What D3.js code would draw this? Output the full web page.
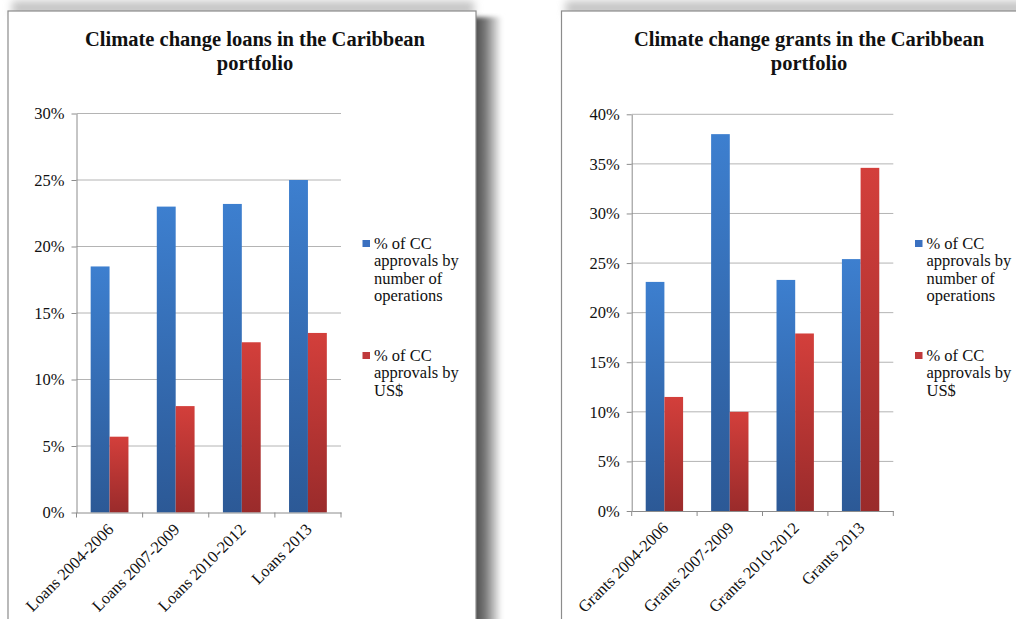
<!DOCTYPE html>
<html><head><meta charset="utf-8">
<script src="https://cdn.jsdelivr.net/npm/d3@7"></script>
<style>
html,body{margin:0;padding:0;background:#fff;overflow:hidden}
svg{display:block}
text{font-family:"Liberation Serif","Times New Roman",serif;fill:#111}
</style></head>
<body>
<svg id="c" width="1016" height="619"></svg>
<script>
// ---- data ----
const seriesNames = ["% of CC approvals by number of operations", "% of CC approvals by US$"];
const loanCategories = ["Loans 2004-2006", "Loans 2007-2009", "Loans 2010-2012", "Loans 2013"];
const loanByNumber = [18.5, 23.0, 23.2, 25.0];
const loanByUSD = [5.7, 8.0, 12.8, 13.5];
const loanTicks = [0, 5, 10, 15, 20, 25, 30];
const grantCategories = ["Grants 2004-2006", "Grants 2007-2009", "Grants 2010-2012", "Grants 2013"];
const grantByNumber = [23.1, 38.0, 23.3, 25.4];
const grantByUSD = [11.5, 10.0, 17.9, 34.6];
const grantTicks = [0, 5, 10, 15, 20, 25, 30, 35, 40];
const loanTitle = ["Climate change loans in the Caribbean", "portfolio"];
const grantTitle = ["Climate change grants in the Caribbean", "portfolio"];
const legendLines = [["% of CC", "approvals by", "number of", "operations"], ["% of CC", "approvals by", "US$"]];

const svg = d3.select("#c");
const defs = svg.append("defs");
function grad(id, top, bottom){
  const g = defs.append("linearGradient").attr("id", id).attr("x1",0).attr("y1",0).attr("x2",0).attr("y2",1);
  g.append("stop").attr("offset","0%").attr("stop-color",top);
  g.append("stop").attr("offset","100%").attr("stop-color",bottom);
}
grad("gBlue", "#3d7fcf", "#2c5996");
grad("gRed", "#d33f3b", "#9a2b2b");
const sg = defs.append("linearGradient").attr("id","shR").attr("x1",0).attr("y1",0).attr("x2",1).attr("y2",0);
sg.append("stop").attr("offset","0%").attr("stop-color","#404040");
sg.append("stop").attr("offset","45%").attr("stop-color","#7a7a7a");
sg.append("stop").attr("offset","100%").attr("stop-color","#ffffff");
const blur = defs.append("filter").attr("id","blur").attr("x","-50%").attr("y","-50%").attr("width","200%").attr("height","200%");
blur.append("feGaussianBlur").attr("stdDeviation",4);
const blur2 = defs.append("filter").attr("id","blur2").attr("x","-50%").attr("y","-10%").attr("width","200%").attr("height","120%");
blur2.append("feGaussianBlur").attr("stdDeviation",2);

const colors = ["url(#gBlue)", "url(#gRed)"];
const legendColors = ["#3a70c0", "#c0393b"];
const FS = "16.5px";

function drawPanel(cfg){
  const g = svg.append("g");
  g.append("rect").attr("x", cfg.px + 4).attr("y", cfg.py - 10).attr("width", cfg.pw - 6).attr("height", 14)
    .attr("fill","#c4c4c4").attr("filter","url(#blur)");
  if (cfg.rightShadow) {
    g.append("rect").attr("x", cfg.px + cfg.pw - 4).attr("y", cfg.py + 6).attr("width", 30).attr("height", 700)
      .attr("fill","url(#shR)").attr("filter","url(#blur2)");
  }
  g.append("rect").attr("x", cfg.px).attr("y", cfg.py).attr("width", cfg.pw).attr("height", 700)
    .attr("fill","#fff").attr("stroke","#8c8c8c").attr("stroke-width",1.2);

  const x = d3.scaleBand().domain(cfg.categories).range([cfg.x0, cfg.x1]).paddingInner(0).paddingOuter(0);
  const xs = d3.scaleBand().domain(seriesNames).range([0, x.bandwidth()]).paddingInner(0).paddingOuter(0.75);
  const y = d3.scaleLinear().domain([0, cfg.ticks[cfg.ticks.length-1]]).range([cfg.y0, cfg.y1]);

  g.append("g").selectAll("line").data(cfg.ticks.slice(1)).join("line")
    .attr("x1", cfg.x0).attr("x2", cfg.x1).attr("y1", d => y(d)).attr("y2", d => y(d))
    .attr("stroke","#b4b4b4").attr("stroke-width",1);

  const ya = g.append("g").attr("transform", `translate(${cfg.x0},0)`)
    .call(d3.axisLeft(y).tickValues(cfg.ticks).tickSize(5).tickSizeOuter(0).tickPadding(7).tickFormat(d => d + "%"));
  ya.select(".domain").attr("stroke","#8c8c8c");
  ya.selectAll(".tick line").attr("stroke","#8c8c8c");
  ya.selectAll("text").attr("font-size",FS).attr("fill","#111").attr("font-family",'"Liberation Serif",serif');

  const seriesData = [cfg.byNumber, cfg.byUSD];
  seriesData.forEach((vals, si) => {
    g.append("g").selectAll("rect").data(vals).join("rect")
      .attr("x", (d,i) => x(cfg.categories[i]) + xs(seriesNames[si]))
      .attr("width", xs.bandwidth())
      .attr("y", d => y(d))
      .attr("height", d => y(0) - y(d))
      .attr("fill", colors[si]);
  });

  const xa = g.append("g").attr("transform", `translate(0,${cfg.y0})`)
    .call(d3.axisBottom(x).tickSize(0).tickSizeOuter(0).tickFormat(""));
  xa.select(".domain").attr("stroke","#8c8c8c");
  const bounds = cfg.categories.map(c => x(c)).concat([cfg.x1]);
  g.append("g").selectAll("line").data(bounds).join("line")
    .attr("x1", d => d).attr("x2", d => d).attr("y1", cfg.y0).attr("y2", cfg.y0 + 5)
    .attr("stroke","#8c8c8c");
  g.append("g").selectAll("text").data(cfg.categories).join("text")
    .attr("transform", d => `translate(${x(d) + x.bandwidth()/2 + 5},${cfg.y0 + 18}) rotate(-45)`)
    .attr("text-anchor","end").attr("font-size",FS).text(d => d);

  const t = g.append("text").attr("text-anchor","middle").attr("font-weight","bold").attr("font-size","20.5px");
  cfg.title.forEach((line, i) => {
    t.append("tspan").attr("x", cfg.titleX).attr("y", 46 + i * 23.5).text(line);
  });

  const legTops = [242, 354];
  legendLines.forEach((lines, si) => {
    g.append("rect").attr("x", cfg.legX).attr("y", legTops[si] - 2).attr("width", 7.5).attr("height", 7)
      .attr("fill", legendColors[si]);
    const lt = g.append("text").attr("font-size",FS);
    lines.forEach((l, li) => {
      lt.append("tspan").attr("x", cfg.legX + 11.5).attr("y", legTops[si] + 7 + li * 17.3).text(l);
    });
  });
}

drawPanel({px: 8, py: 11, pw: 468, rightShadow: true,
  categories: loanCategories, byNumber: loanByNumber, byUSD: loanByUSD, ticks: loanTicks,
  x0: 76.5, x1: 341, y0: 512.5, y1: 113.5, title: loanTitle, titleX: 255, legX: 362.5});
drawPanel({px: 561.5, py: 11, pw: 470, rightShadow: false,
  categories: grantCategories, byNumber: grantByNumber, byUSD: grantByUSD, ticks: grantTicks,
  x0: 631.7, x1: 893.3, y0: 511, y1: 114.3, title: grantTitle, titleX: 809, legX: 915});
</script>
</body></html>
